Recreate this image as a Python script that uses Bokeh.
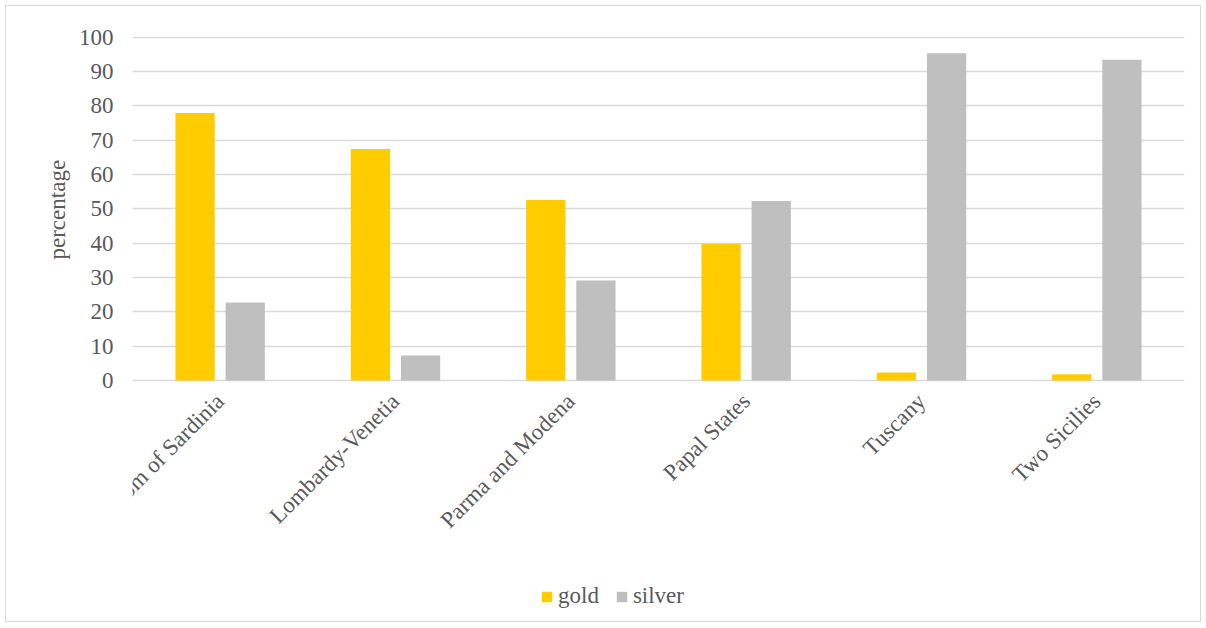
from bokeh.plotting import figure
from bokeh.models import FactorRange, FixedTicker, Legend, LegendItem, ColumnDataSource, Title
from bokeh.transform import dodge
from bokeh.embed import file_html
from bokeh.resources import INLINE
import math

categories = ["Kingdom of Sardinia", "Lombardy-Venetia", "Parma and Modena",
              "Papal States", "Tuscany", "Two Sicilies"]
gold = [77.9, 67.4, 52.6, 39.8, 2.3, 1.8]
silver = [22.7, 7.3, 29.1, 52.3, 95.3, 93.4]
y_ticks = [0, 10, 20, 30, 40, 50, 60, 70, 80, 90, 100]

FONT = "Liberation Serif"
TXT = "#595959"
GRID = "#d9d9d9"
FS = "23px"

src = ColumnDataSource(dict(cat=categories, gold=gold, silver=silver))

# frame extends below zero so the legend sits inside it; the x axis is pinned at y=0
p = figure(x_range=FactorRange(*categories), y_range=(-67.0, 100.2),
           frame_width=1052, frame_height=574, output_backend="svg", toolbar_location=None,
           min_border_left=126, min_border_right=16, min_border_top=30, min_border_bottom=11)
p.styles = {"border": "1px solid #d9d9d9", "margin-left": "5px", "margin-top": "5px"}
p.outline_line_color = None
p.background_fill_color = "white"
p.border_fill_color = "white"

rg = p.vbar(x=dodge("cat", -0.143, range=p.x_range), top="gold", width=0.224,
            source=src, fill_color="#FFCC00", line_color=None)
rs = p.vbar(x=dodge("cat", 0.143, range=p.x_range), top="silver", width=0.224,
            source=src, fill_color="#BFBFBF", line_color=None)

p.xgrid.grid_line_color = None
p.ygrid.grid_line_color = GRID
p.ygrid.grid_line_width = 1.3
p.yaxis.ticker = FixedTicker(ticks=y_ticks)

for ax in (p.xaxis[0], p.yaxis[0]):
    ax.axis_line_color = None
    ax.major_tick_line_color = None
    ax.minor_tick_line_color = None
    ax.major_tick_out = 0
    ax.major_tick_in = 0
    ax.major_label_text_font = FONT
    ax.major_label_text_font_size = FS
    ax.major_label_text_color = TXT

p.yaxis.major_label_standoff = 19

p.xaxis.fixed_location = 0
p.xaxis.major_label_orientation = math.pi / 4
p.xaxis.major_label_standoff = 17

ytitle = Title(text="percentage", align="left", offset=351, vertical_align="middle",
               text_font=FONT, text_font_size=FS, text_font_style="normal",
               text_color=TXT, standoff=10)
p.add_layout(ytitle, "left")

legend = Legend(items=[LegendItem(label="gold", renderers=[rg]),
                       LegendItem(label="silver", renderers=[rs])],
                orientation="horizontal", location=(408, 1),
                label_text_font=FONT, label_text_font_size=FS, label_text_color=TXT,
                glyph_width=13, glyph_height=13, spacing=16, label_standoff=5,
                border_line_color=None, background_fill_alpha=0, padding=0, margin=0)
p.add_layout(legend, "center")

open("out.html", "w").write(file_html(p, INLINE))
